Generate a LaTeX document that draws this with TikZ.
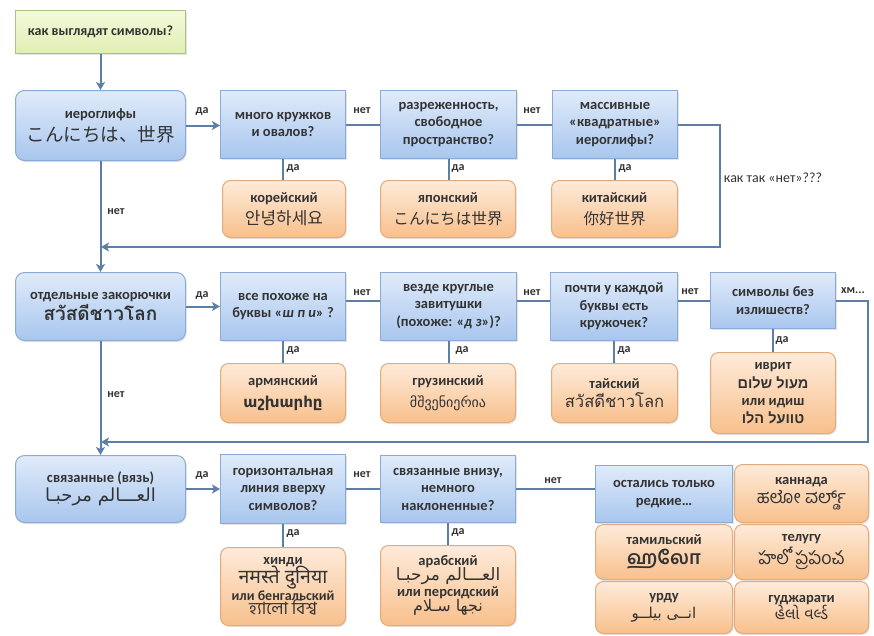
\documentclass[tikz,border=0pt]{standalone}
\usepackage{fontspec}
\setmainfont{Carlito}
\newfontfamily\jpfont{Noto Sans CJK JP}
\newfontfamily\krfont{Noto Sans CJK KR}
\newfontfamily\zhfont{Noto Sans CJK SC}
\newfontfamily\thaifont[Script=Thai]{Loma}
\newfontfamily\djfont{DejaVu Sans}
\newfontfamily\hebfont[Script=Hebrew]{Liberation Sans}
\newfontfamily\arabicfont[Script=Arabic]{DejaVu Sans}
\newfontfamily\devfont[Script=Devanagari]{Noto Sans}
\newfontfamily\bengfont[Script=Bengali]{Hind Siliguri}
\newfontfamily\kanfont[Script=Kannada]{Hind Mysuru}
\newfontfamily\telfont[Script=Telugu]{Hind Guntur}
\newfontfamily\tamfont[Script=Tamil]{Hind Madurai}
\newfontfamily\gujfont[Script=Gujarati]{Noto Sans Gujarati UI}
\TeXXeTstate=1
\usetikzlibrary{arrows.meta,shadows}
\newcommand\fsz[2]{\fontsize{#1}{#2}\selectfont}
\definecolor{lnc}{HTML}{5B7FA6}
\definecolor{bluetop}{HTML}{E0EBFA}
\definecolor{bluebot}{HTML}{A8C6EE}
\definecolor{blueedge}{HTML}{89ABD6}
\definecolor{ortop}{HTML}{FEEBDA}
\definecolor{orbot}{HTML}{F8C08C}
\definecolor{oredge}{HTML}{E2AB7E}
\definecolor{grtop}{HTML}{F2F9DA}
\definecolor{grbot}{HTML}{E1EEB4}
\definecolor{gredge}{HTML}{AFC08A}
\definecolor{txt}{HTML}{333333}
\tikzset{
  base/.style={draw, line width=1pt, anchor=north west, align=center, inner sep=2pt,
    text=txt, font=\bfseries\fsz{14.5}{17.5},
    drop shadow={shadow xshift=1.2pt, shadow yshift=-1.5pt, opacity=0.22}},
  qbox/.style={base, draw=blueedge, top color=bluetop, bottom color=bluebot},
  mbox/.style={qbox, rounded corners=9pt},
  abox/.style={base, draw=oredge, top color=ortop, bottom color=orbot, rounded corners=8pt},
  sbox/.style={base, draw=gredge, top color=grtop, bottom color=grbot},
  ln/.style={draw=lnc, line width=2pt},
  arr/.style={ln, -{Stealth[length=8pt,width=9pt,inset=2pt]}},
  lab/.style={font=\bfseries\fsz{12}{14}, text=txt, inner sep=0pt}
}
\begin{document}
\begin{tikzpicture}[x=1pt,y=-1pt]
\useasboundingbox[fill=white] (0,0) rectangle (874,635);
% ---------- row 0 ----------
\node[sbox, minimum width=170pt, minimum height=43pt, font=\bfseries\fsz{14}{17}] (start) at (15,10) {как выглядят символы?};
% ---------- row 1 ----------
\node[mbox, minimum width=170pt, minimum height=70pt] (q1) at (15,90)
  {иероглифы\\[4pt]{\jpfont\mdseries\fsz{18.5}{20}こんにちは、世界}};
\node[qbox, minimum width=125pt, minimum height=68pt] (a1) at (220,90) {много кружков\\и овалов?};
\node[qbox, minimum width=136pt, minimum height=68pt] (b1) at (380,90) {разреженность,\\свободное\\пространство?};
\node[qbox, minimum width=125pt, minimum height=68pt] (c1) at (552,90) {массивные\\«квадратные»\\иероглифы?};
\node[abox, minimum width=123pt, minimum height=57pt] (ko) at (222,180) {корейский\\[4pt]{\krfont\mdseries\fsz{17}{19}안녕하세요}};
\node[abox, minimum width=135pt, minimum height=57pt] (ja) at (380,180) {японский\\[4pt]{\jpfont\mdseries\fsz{15.6}{18}こんにちは世界}};
\node[abox, minimum width=126pt, minimum height=57pt] (zh) at (551,180) {китайский\\[4pt]{\zhfont\mdseries\fsz{15.5}{18}你好世界}};
% ---------- row 2 ----------
\node[mbox, minimum width=170pt, minimum height=68pt] (q2) at (15,272)
  {отдельные закорючки\\[2pt]{\thaifont\fsz{19}{20}สวัสดีชาวโลก}};
\node[qbox, minimum width=125pt, minimum height=68pt] (a2) at (220,272) {все похоже на\\буквы «\textit{ш п и}» ?};
\node[qbox, minimum width=136pt, minimum height=68pt] (b2) at (380,272) {везде круглые\\завитушки\\(похоже: «\textit{д з}»)?};
\node[qbox, minimum width=127pt, minimum height=68pt] (c2) at (550,272) {почти у каждой\\буквы есть\\кружочек?};
\node[qbox, minimum width=125pt, minimum height=56pt] (d2) at (710,272) {символы без\\излишеств?};
\node[abox, minimum width=125pt, minimum height=59pt] (hy) at (220,363) {армянский\\[4pt]{\djfont\fsz{15}{17}աշխարհը}};
\node[abox, minimum width=135pt, minimum height=59pt] (ka) at (380,363) {грузинский\\[4pt]{\djfont\mdseries\fsz{14}{16}მშვენიერია}};
\node[abox, minimum width=126pt, minimum height=59pt] (th) at (551,363) {тайский\\[2pt]{\thaifont\mdseries\fsz{16.6}{18}สวัสดีชาวโลก}};
\node[abox, minimum width=125pt, minimum height=81pt] (he) at (710,352)
  {иврит\\[2pt]{\hebfont\fsz{14.5}{17}\beginR מעול שלום\endR}\\[-1pt]или идиш\\[1pt]{\hebfont\fsz{14.5}{17}\beginR טוועל הלו\endR}};
% ---------- row 3 ----------
\node[mbox, minimum width=170pt, minimum height=67pt] (q3) at (15,455)
  {связанные (вязь)\\[2pt]{\arabicfont\mdseries\fsz{18}{20}\beginR العـــالم مرحبـا\endR}};
\node[qbox, minimum width=125pt, minimum height=69pt] (a3) at (220,454) {горизонтальная\\линия вверху\\символов?};
\node[qbox, minimum width=135pt, minimum height=67pt] (b3) at (380,455) {связанные внизу,\\немного\\наклоненные?};
\node[abox, minimum width=125pt, minimum height=78pt] (hi) at (220,547)
  {хинди\\[-2pt]{\devfont\fsz{19.5}{18}नमस्ते दुनिया}\\[-1pt]{\fsz{14}{17}или бенгальский}\\[-3pt]{\bengfont\mdseries\fsz{17}{18}হ্যালো বিশ্ব}};
\node[abox, minimum width=135pt, minimum height=80pt] (ar) at (380,545)
  {арабский\\[-2pt]{\arabicfont\mdseries\fsz{17}{18}\beginR العـــالم مرحبـا\endR}\\[-2pt]или персидский\\[-2pt]{\arabicfont\mdseries\fsz{16}{18}\beginR نجها سـلام\endR}};
\node[qbox, minimum width=137pt, minimum height=57pt] (rare) at (595,465) {остались только\\редкие…};
\node[abox, minimum width=134pt, minimum height=58pt] (kn) at (734,464) {каннада\\[2pt]{\kanfont\mdseries\fsz{18}{20}ಹಲೋ ವರ್ಲ್ಡ್}};
\node[abox, minimum width=137pt, minimum height=55pt] (ta) at (595,524) {тамильский\\[2pt]{\tamfont\fsz{19}{20}ஹலோ}};
\node[abox, minimum width=134pt, minimum height=55pt] (te) at (734,524) {телугу\\[2pt]{\telfont\mdseries\fsz{18}{20}హలో ప్రపంచ}};
\node[abox, minimum width=137pt, minimum height=52pt] (ur) at (595,581) {урду\\{\arabicfont\mdseries\fsz{15}{17}\beginR انــی بیلــو\endR}};
\node[abox, minimum width=134pt, minimum height=52pt] (gu) at (734,581) {гуджарати\\{\gujfont\mdseries\fsz{16}{18}હેલો વર્લ્ડ}};
% ---------- coordinates ----------
\coordinate (r1) at (720,247);
\coordinate (m1) at (101,247);
\coordinate (r2) at (868,442);
\coordinate (m2) at (101,442);
% ---------- connectors ----------
\draw[arr] (start) -- (q1);
\draw[arr] (q1.east) -- (q1.east -| a1.west);
\draw[ln] (a1.east) -- (a1.east -| b1.west);
\draw[ln] (b1.east) -- (b1.east -| c1.west);
\draw[ln] (a1.south) -- (a1.south |- ko.north);
\draw[ln] (b1.south) -- (b1.south |- ja.north);
\draw[ln] (c1.south) -- (c1.south |- zh.north);
\draw[arr] (c1.east) -| (r1) -- (m1);
\draw[arr] (q1) -- (q2);
\draw[arr] (q2.east) -- (q2.east -| a2.west);
\draw[ln] (a2.east |- d2.east) -- (b2.west |- d2.east);
\draw[ln] (b2.east |- d2.east) -- (c2.west |- d2.east);
\draw[ln] (c2.east |- d2.east) -- (d2.west);
\draw[ln] (a2.south) -- (a2.south |- hy.north);
\draw[ln] (b2.south) -- (b2.south |- ka.north);
\draw[ln] (c2.south) -- (c2.south |- th.north);
\draw[ln] (d2.south) -- (d2.south |- he.north);
\draw[arr] (d2.east) -| (r2) -- (m2);
\draw[arr] (q2) -- (q3);
\draw[arr] (q3.east) -- (q3.east -| a3.west);
\draw[ln] (a3.east) -- (a3.east -| b3.west);
\draw[ln] (b3.east) -- (b3.east -| rare.west);
\draw[ln] (a3.south) -- (a3.south |- hi.north);
\draw[ln] (b3.south) -- (b3.south |- ar.north);
% ---------- labels ----------
\node[lab] (l1) at (202,111) {да};
\node[lab] (l2) at (362,111) {нет};
\node[lab] (l3) at (532,111) {нет};
\node[lab] (l4) at (293,168) {да};
\node[lab] (l5) at (458,168) {да};
\node[lab] (l6) at (625,168) {да};
\node[lab, font=\fsz{14}{16}] (l7) at (773,178) {как так «нет»???};
\node[lab] (l8) at (116,212) {нет};
\node[lab] (l9) at (202,295) {да};
\node[lab] (l10) at (362,293) {нет};
\node[lab] (l11) at (532,293) {нет};
\node[lab] (l12) at (690,292) {нет};
\node[lab] (l13) at (853,291) {хм...};
\node[lab] (l14) at (293,350) {да};
\node[lab] (l15) at (462,350) {да};
\node[lab] (l16) at (624,350) {да};
\node[lab] (l17) at (782,340) {да};
\node[lab] (l18) at (116,395) {нет};
\node[lab] (l19) at (202,475) {да};
\node[lab] (l20) at (362,475) {нет};
\node[lab] (l21) at (553,481) {нет};
\node[lab] (l22) at (293,533) {да};
\node[lab] (l23) at (458,532) {да};
\end{tikzpicture}
\end{document}
